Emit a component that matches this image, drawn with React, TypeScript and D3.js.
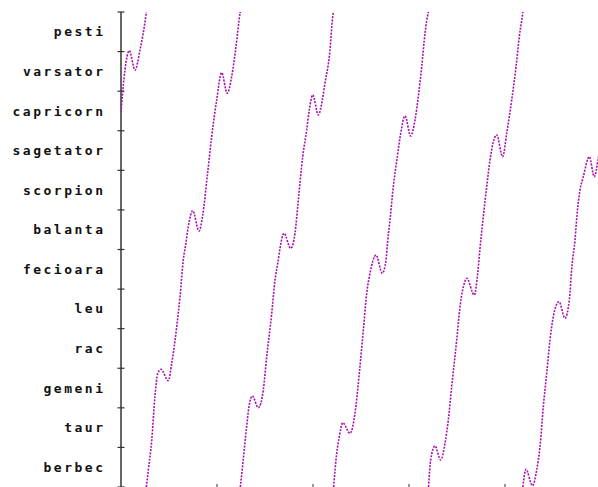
import React from "react";
import * as d3 from "d3";

const signs = ["berbec", "taur", "gemeni", "rac", "leu", "fecioara", "balanta", "scorpion", "sagetator", "capricorn", "varsator", "pesti"];

// day index (from start) and ecliptic longitude (degrees)
const days = [
  0, 15, 31.6, 53.3, 72.3, 95, 96.5,
  96.5, 104, 117, 129, 140, 152, 180, 193, 212, 224.5, 237, 247, 256, 273, 297, 311, 328, 345, 364, 383, 404, 421, 437.5, 453, 454,
  454, 465, 478, 487, 499.6, 522.4, 541.4, 554.4, 573.4, 586, 598.5, 605, 620, 645.7, 662, 674.6, 691.3, 706.5, 716.4, 729.4, 750.7, 766, 776, 792.5, 807.7, 809,
  809, 820.7, 830.6, 843.5, 871.3, 890.3, 906.7, 922, 934.8, 947.4, 970.2, 994.2, 1008.2, 1014, 1023.5, 1036, 1051.3, 1064.2, 1080.5, 1102.2, 1118.6, 1131.1, 1144.1, 1156.6, 1169.2, 1170,
  1170, 1178.3, 1194.6, 1216.4, 1232.7, 1245.3, 1258.2, 1277.2, 1289.8, 1308, 1315.3, 1344.2, 1357.1, 1365.9, 1378.4, 1391.4, 1403.9, 1429.4, 1452.2, 1467.5, 1486.5, 1502.9, 1515.4, 1528.4, 1529,
  1529, 1540.9, 1565.6, 1581.6, 1594.2, 1606.7, 1619.7, 1632.2, 1644.8, 1666.5, 1689.3, 1705.7, 1716, 1727.3, 1734.9, 1746.4, 1758.9, 1781.7, 1800.7, 1814.8, 1826,
];
const longitude = [
  284, 316, 330.7, 316, 331.2, 357.7, 360,
  0, 12.9, 35.6, 68.4, 86.2, 89.2, 80.6, 93.8, 121.5, 144.2, 172, 185, 197.3, 209.4, 194, 206.1, 235.2, 265.5, 293.3, 314, 298.4, 311, 333.7, 359, 360,
  0, 20.5, 45.7, 60.9, 69, 60.1, 73.5, 98.8, 131.6, 156.9, 172, 180.9, 192.3, 180.9, 192.3, 217.5, 250.3, 270.6, 285.7, 297.1, 282, 293.3, 306, 326.1, 359, 360,
  0, 25.5, 38.1, 48.7, 40.7, 55.9, 86.2, 119, 146.8, 162, 175.8, 162, 172, 184.9, 202.4, 227.6, 250.3, 268.1, 281.2, 266, 278.1, 295.8, 318.5, 343.8, 359.5, 360,
  0, 20.5, 31.1, 20.5, 33.1, 50.8, 76, 111.4, 136.6, 155.5, 158.2, 145.5, 162, 180.9, 204.9, 227.6, 247.8, 266.8, 250.3, 268.1, 293.3, 318.5, 341.3, 359, 360,
  0, 13.4, 1.0, 12.9, 30.5, 60.9, 86.2, 111.4, 129.1, 140.4, 127.9, 141.7, 168.3, 187.2, 206.1, 225.1, 235.2, 250.3, 235.2, 247.8, 263,
];
const yearTicks = [1, 2, 3, 4];
const daysPerYear = 365.25;

const W = 598;
const H = 487;
const axisX = 121;

export default function App() {
  const x = d3.scaleLinear().domain([0, 5 * daysPerYear]).range([axisX, 601]);
  const y = d3.scaleLinear().domain([0, 360]).range([487, 12]);

  // split into segments at the 360 -> 0 wrap
  const segments: [number, number][][] = [];
  let cur: [number, number][] = [];
  days.forEach((d, i) => {
    const v = longitude[i];
    if (cur.length && v < cur[cur.length - 1][1] - 180) {
      segments.push(cur);
      cur = [];
    }
    cur.push([d, v]);
  });
  if (cur.length) segments.push(cur);

  const line = d3
    .line<[number, number]>()
    .x((d) => x(d[0]))
    .y((d) => y(d[1]))
    .curve(d3.curveMonotoneX);

  const bounds = d3.range(0, 361, 30);

  return (
    <svg
      width={W}
      height={H}
      style={{ position: "absolute", left: 0, top: 0, background: "#fff" }}
    >
      <defs>
        <clipPath id="plot">
          <rect x={axisX} y={0} width={W - axisX} height={H} />
        </clipPath>
      </defs>
      {/* y axis */}
      <line x1={axisX} x2={axisX} y1={y(360)} y2={y(0)} stroke="#333" strokeWidth={1.5} />
      {bounds.map((b) => (
        <line key={b} x1={axisX - 3.5} x2={axisX + 3.5} y1={y(b)} y2={y(b)} stroke="#333" strokeWidth={1.2} />
      ))}
      {signs.map((s, i) => (
        <text
          key={s}
          x={105.5}
          y={y(i * 30 + 15)}
          dy="0.35em"
          textAnchor="end"
          fontFamily="'DejaVu Sans Mono', monospace"
          fontWeight="bold"
          fontSize={13}
          letterSpacing={2.5}
          fill="#111"
        >
          {s}
        </text>
      ))}
      {/* x ticks */}
      {yearTicks.map((t) => (
        <line key={t} x1={x(t * daysPerYear)} x2={x(t * daysPerYear)} y1={484} y2={487} stroke="#333" strokeWidth={1} />
      ))}
      <g clipPath="url(#plot)">
        {segments.map((seg, i) => (
          <path
            key={i}
            d={line(seg) || ""}
            fill="none"
            stroke="#a810b0"
            strokeWidth={1.6}
            strokeDasharray="2 1.3"
          />
        ))}
      </g>
    </svg>
  );
}
